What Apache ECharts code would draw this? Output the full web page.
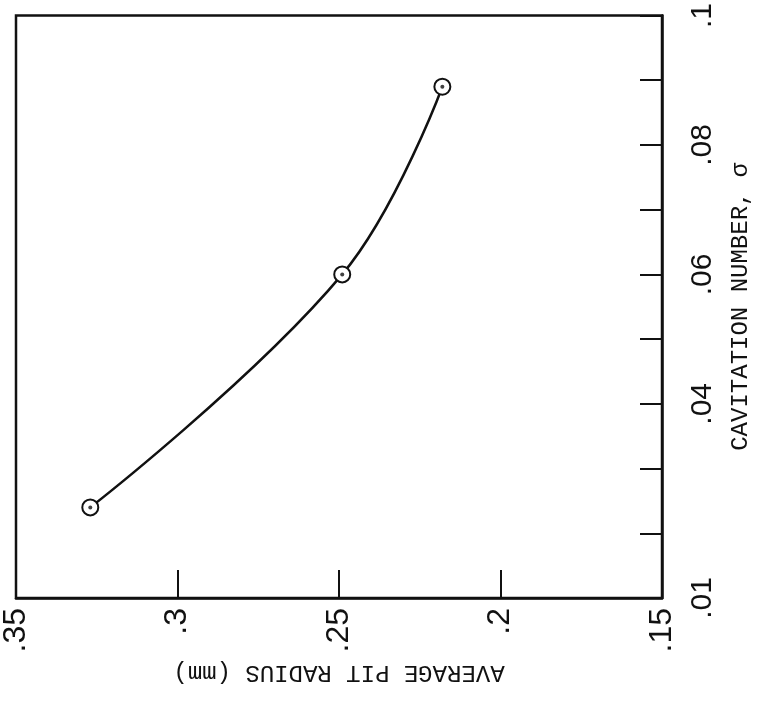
<!DOCTYPE html>
<html>
<head>
<meta charset="utf-8">
<script src="https://cdn.jsdelivr.net/npm/echarts@6/dist/echarts.min.js"></script>
<style>
  html, body { margin: 0; padding: 0; background: #fff; }
  #chart { width: 761px; height: 708px; }
</style>
</head>
<body>
<div id="chart"></div>
<script>
// measured points: average pit radius (mm) against cavitation number sigma
const pitRadius = [0.327, 0.249, 0.218];
const cavitationNumber = [0.024, 0.06, 0.089];

// labels printed along each axis
const radiusTickLabels = [".35", ".3", ".25", ".2", ".15"];
const sigmaTickLabels = [".01", ".04", ".06", ".08", ".1"];
const sigmaLabelledTicks = [1, 4, 6, 8, 10];

const points = pitRadius.map((r, i) => [r, cavitationNumber[i]]);

function radiusLabel(value) {
  const idx = Math.round((0.35 - value) / 0.05);
  return radiusTickLabels[idx] || "";
}

function sigmaLabel(value) {
  const hundredths = Math.round(value * 100);
  const idx = sigmaLabelledTicks.indexOf(hundredths);
  return idx >= 0 ? sigmaTickLabels[idx] : "";
}

const chart = echarts.init(document.getElementById("chart"));
chart.setOption({
  animation: false,
  backgroundColor: "#fff",
  grid: {
    show: true,
    left: 15, right: 96, top: 15, bottom: 110,
    borderColor: "#111", borderWidth: 2.5,
    backgroundColor: "transparent"
  },
  xAxis: {
    type: "value",
    inverse: true,
    min: 0.15, max: 0.35, interval: 0.05,
    position: "bottom",
    splitLine: { show: false },
    axisLine: { lineStyle: { color: "#111", width: 2.5 } },
    axisTick: { inside: true, length: 28, lineStyle: { color: "#111", width: 2 } },
    axisLabel: {
      rotate: 90, margin: 10,
      fontFamily: "Liberation Sans", fontSize: 32, color: "#111",
      formatter: radiusLabel
    },
    name: "AVERAGE PIT RADIUS (mm)",
    nameLocation: "middle",
    nameRotate: 180,
    nameGap: 59,
    nameTextStyle: { fontFamily: "Liberation Mono", fontSize: 24, color: "#111" }
  },
  yAxis: {
    type: "value",
    min: 0.01, max: 0.1, interval: 0.01,
    position: "right",
    splitLine: { show: false },
    axisLine: { lineStyle: { color: "#111", width: 2.5 } },
    axisTick: { inside: true, length: 22, lineStyle: { color: "#111", width: 2 } },
    axisLabel: {
      rotate: 90, margin: 26,
      fontFamily: "Liberation Sans", fontSize: 30, color: "#111",
      formatter: sigmaLabel
    },
    name: "CAVITATION NUMBER, σ",
    nameLocation: "middle",
    nameRotate: 90,
    nameGap: 67,
    nameTextStyle: { fontFamily: "Liberation Mono", fontSize: 24, color: "#111" }
  },
  series: [
    {
      type: "line",
      data: points,
      smooth: 0.4,
      symbol: "emptyCircle",
      symbolSize: 16,
      lineStyle: { color: "#111", width: 2.5 },
      itemStyle: { color: "#111", borderColor: "#111", borderWidth: 2.8 },
      z: 2
    },
    {
      type: "scatter",
      data: points,
      symbol: "circle",
      symbolSize: 4,
      itemStyle: { color: "#111" },
      z: 3
    }
  ]
});
</script>
</body>
</html>
